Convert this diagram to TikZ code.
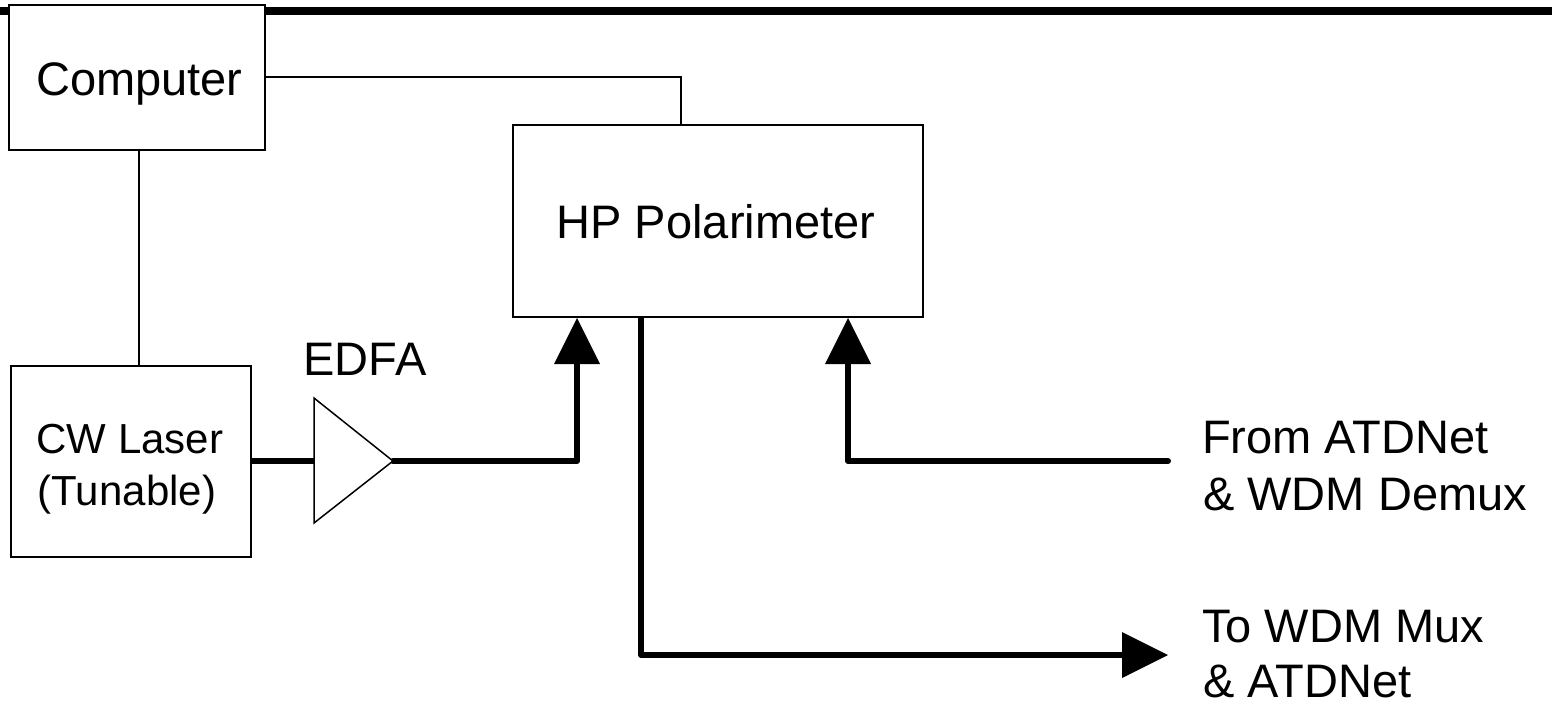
\documentclass[tikz,border=0pt]{standalone}
\usepackage{fontspec}
\setmainfont{Liberation Sans}
\usetikzlibrary{arrows.meta}
\begin{document}
\begin{tikzpicture}[x=1pt,y=-1pt,
  box/.style={draw,line width=2pt,fill=white,inner sep=0pt,outer sep=0pt},
  thin/.style={line width=2pt},
  fiber/.style={line width=6pt,line cap=round,line join=round},
  fibarrow/.style={fiber,-{Triangle[width=46pt,length=46pt,line width=0pt]}},
  lbl/.style={inner sep=0pt,font=\fontsize{47}{52}\selectfont},
  slbl/.style={inner sep=0pt,font=\fontsize{42}{52}\selectfont}]
\useasboundingbox (0,0) rectangle (1552,705);
% top bar
\coordinate (barL) at (0,11);
\coordinate (barR) at (1552,11);
\draw[line width=8pt] (barL) -- (barR);
% boxes
\node[box,minimum width=256pt,minimum height=145pt] (comp) at (137,77.5) {};
\node[box,minimum width=240pt,minimum height=191pt] (laser) at (131,461.5) {};
\node[box,minimum width=410pt,minimum height=192pt] (pol) at (718,221) {};
% texts
\node[lbl,anchor=base] (comptxt) at (139.5,95) {Computer};
\node[lbl,anchor=base] (poltxt) at (716,238) {HP Polarimeter};
\node[lbl,anchor=base] (edfatxt) at (365,375) {EDFA};
\node[slbl,anchor=base] (lasertxt1) at (130,453) {CW Laser};
\node[slbl,anchor=base] (lasertxt2) at (127,505) {(Tunable)};
\node[lbl,anchor=base west] (fromtxt1) at (1202,453) {From ATDNet};
\node[lbl,anchor=base west] (fromtxt2) at (1203,510) {\& WDM Demux};
\node[lbl,anchor=base west] (totxt1) at (1202,642) {To WDM Mux};
\node[lbl,anchor=base west] (totxt2) at (1203,697) {\& ATDNet};
% amplifier triangle
\coordinate (ampA) at (314,398);
\coordinate (ampB) at (314,523);
\coordinate (ampTip) at (393,461);
\coordinate (ampIn) at (314,461);
% control lines
\draw[thin] (comp.south -| 139,0) -- (laser.north -| 139,0);
\coordinate (polTop) at (681,125);
\draw[thin] (comp.east |- 0,77) -| (polTop);
% fibre paths
\draw[fiber,line cap=butt] (laser.east |- ampIn) -- (ampIn);
\coordinate (polIn1) at (577,318);
\coordinate (polIn2) at (848,318);
\coordinate (polOut) at (641,318);
\coordinate (inEnd) at (1168,461);
\coordinate (outEnd) at (1168,655);
\draw[fibarrow] (ampTip) -| (polIn1);
\draw[fibarrow] (inEnd) -| (polIn2);
\draw[fibarrow,line cap=butt] (polOut) |- (outEnd);
\draw[line width=1.5pt,line join=miter,fill=white] (ampA) -- (ampTip) -- (ampB) -- cycle;
\end{tikzpicture}
\end{document}
